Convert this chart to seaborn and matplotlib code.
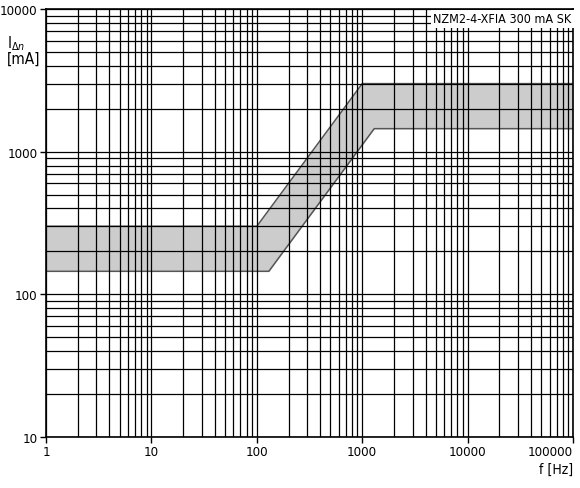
import matplotlib
matplotlib.use("Agg")
import matplotlib.pyplot as plt
import matplotlib.ticker as mticker
import seaborn as sns
import pandas as pd
import numpy as np

# Data: band boundaries (frequency in Hz, tripping current in mA)
upper_f = [1, 100, 1000, 100000]
upper_i = [300, 300, 3000, 3000]
lower_f = [1, 130, 1300, 100000]
lower_i = [145, 145, 1450, 1450]
x_ticks = [1, 10, 100, 1000, 10000, 100000]
y_ticks = [10, 100, 1000, 10000]
title = "NZM2-4-XFIA 300 mA SK"

sns.set_theme(style="white")
plt.rcParams['font.family'] = ['DejaVu Sans']
plt.rcParams['font.stretch'] = 'condensed'
plt.rcParams['text.color'] = 'black'
plt.rcParams['xtick.color'] = 'black'
plt.rcParams['ytick.color'] = 'black'
plt.rcParams['xtick.labelcolor'] = 'black'
plt.rcParams['ytick.labelcolor'] = 'black'

fig = plt.figure(figsize=(5.8, 4.89), dpi=100)
ax = fig.add_axes([0.0793, 0.1043, 0.9087, 0.8752])
ax.set_xscale('log')
ax.set_yscale('log')
ax.set_xlim(1, 100000)
ax.set_ylim(10, 10000)

# shaded band
grid_f = np.unique(np.concatenate([upper_f, lower_f]))
up_interp = 10 ** np.interp(np.log10(grid_f), np.log10(upper_f), np.log10(upper_i))
lo_interp = 10 ** np.interp(np.log10(grid_f), np.log10(lower_f), np.log10(lower_i))
ax.fill_between(grid_f, lo_interp, up_interp, color='#cccccc', zorder=1, linewidth=0)

df_up = pd.DataFrame({'f': upper_f, 'i': upper_i})
df_lo = pd.DataFrame({'f': lower_f, 'i': lower_i})
sns.lineplot(data=df_up, x='f', y='i', ax=ax, color='#555555', lw=1.1, zorder=2, sort=False)
sns.lineplot(data=df_lo, x='f', y='i', ax=ax, color='#555555', lw=1.1, zorder=2, sort=False)

# grid
ax.xaxis.set_major_locator(mticker.FixedLocator(x_ticks))
ax.yaxis.set_major_locator(mticker.FixedLocator(y_ticks))
ax.xaxis.set_minor_locator(mticker.LogLocator(base=10, subs=np.arange(2, 10)))
ax.yaxis.set_minor_locator(mticker.LogLocator(base=10, subs=np.arange(2, 10)))
ax.xaxis.set_major_formatter(mticker.FixedFormatter([str(v) for v in x_ticks]))
ax.yaxis.set_major_formatter(mticker.FixedFormatter([str(v) for v in y_ticks]))
ax.xaxis.set_minor_formatter(mticker.NullFormatter())
ax.yaxis.set_minor_formatter(mticker.NullFormatter())
ax.grid(True, which='both', color='black', lw=0.9, zorder=3)
ax.set_axisbelow(False)
for ln in ax.get_xgridlines() + ax.get_ygridlines():
    ln.set_zorder(3)

ax.tick_params(which='major', direction='out', length=4, width=1, color='black',
               labelcolor='black', labelsize=9.5, pad=2, bottom=True, left=True)
ax.tick_params(which='minor', length=0)
for s in ax.spines.values():
    s.set_color('black')
    s.set_linewidth(1.2)
    s.set_zorder(4)

ax.set_xlabel('')
ax.set_ylabel('')

fig.canvas.draw()
xlabels = ax.get_xticklabels()
xlabels[-1].set_horizontalalignment('right')

ax.text(0.997, 0.992, title, transform=ax.transAxes, ha='right', va='top',
        fontsize=9, zorder=5, color='black',
        bbox=dict(facecolor='white', edgecolor='none', pad=1.5))

fig.text(0.012, 0.93, 'I$_{\\Delta n}$\n[mA]', ha='left', va='top', fontsize=11,
         linespacing=0.9, color='black')
fig.text(0.988, 0.04, 'f [Hz]', ha='right', va='center', fontsize=10, color='black')

fig.savefig('out.png', dpi=100, facecolor='white')
